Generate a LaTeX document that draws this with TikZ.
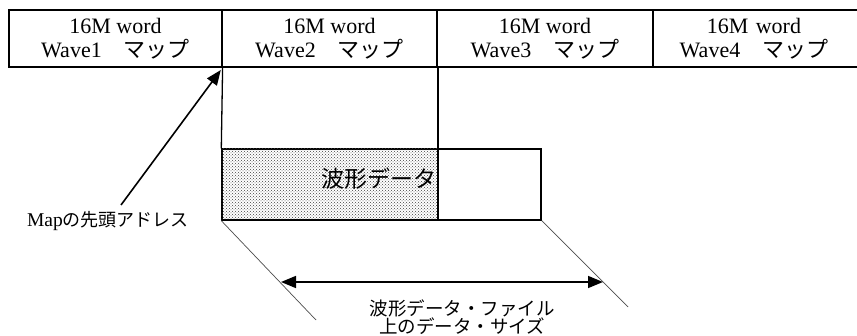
\documentclass[tikz,border=0pt]{standalone}
\usepackage{fontspec}
\setmainfont{Liberation Serif}
\newfontfamily\jp{Noto Sans CJK JP}
\usetikzlibrary{arrows.meta,positioning,calc,patterns}

\begin{document}
\begin{tikzpicture}[x=1pt, y=-1pt,
    mapbox/.style={rectangle, draw=black, line width=1.2pt, inner sep=0pt,
                minimum height=57pt, align=center,
                font=\fontsize{22}{24}\selectfont},
    databox/.style={rectangle, draw=black, line width=1.4pt, inner sep=0pt},
    arr/.style={-{Triangle[length=15pt, width=12pt]}, line width=1.6pt},
    darr/.style={{Triangle[length=15pt, width=12pt]}-{Triangle[length=15pt, width=12pt]}, line width=1.6pt},
    guide/.style={draw=black!70, line width=0.7pt},
]
\useasboundingbox (0,0) rectangle (857,336);

% --- Wave maps ---
\node[mapbox, minimum width=213pt] (wave1) at (115.5,38.5) {16M word\\Wave1{\jp 　マップ}};
\node[mapbox, minimum width=215pt] (wave2) at (329.5,38.5) {16M word\\Wave2{\jp 　マップ}};
\node[mapbox, minimum width=216pt] (wave3) at (545,38.5) {16M word\\Wave3{\jp 　マップ}};
\node[mapbox, minimum width=226pt, text width=200pt, align=left] (wave4) at (766,38.5)
  {\hspace*{-12pt}\makebox[200pt]{16M word}\\\hspace*{-12pt}\makebox[200pt]{Wave4{\jp 　マップ}}};

% --- Waveform data ---
\node[databox, minimum width=319pt, minimum height=71pt] (wdata) at (381.5,184.5) {};
\fill[pattern=crosshatch dots, pattern color=black!75]
  (wdata.north west) rectangle (437,220);
\node[anchor=east, inner sep=0pt, font=\jp\fontsize{23}{23}\selectfont] (wlabel) at (437,179) {波形データ};

\draw[line width=1.3pt] (wave1.south east) -- (wdata.north west);
\draw[line width=1.8pt] (wave2.south east) -- (wave2.south east |- wdata.south);

% --- Map head address ---
\node[font=\fontsize{19.5}{19.5}\selectfont] (addr) at (108,221) {Map{\jp\fontsize{18}{18}\selectfont の先頭アドレス}};
\coordinate (tail) at (121,205);
\draw[arr, shorten >=3pt] (tail) -- (wave1.south east);

% --- Data size ---
\coordinate (gl) at (316,320);
\coordinate (gr) at (628,307);
\draw[guide] (wdata.south west) -- (gl);
\draw[guide] (wdata.south east) -- (gr);
\coordinate (sl) at (281,282);
\coordinate (sr) at (603,282);
\draw[darr] (sl) -- (sr);
\node[anchor=south, align=center, inner sep=1pt, font=\jp\fontsize{18.5}{16.5}\selectfont] (size) at (462,336)
  {波形データ・ファイル\\上のデータ・サイズ};

\end{tikzpicture}
\end{document}
